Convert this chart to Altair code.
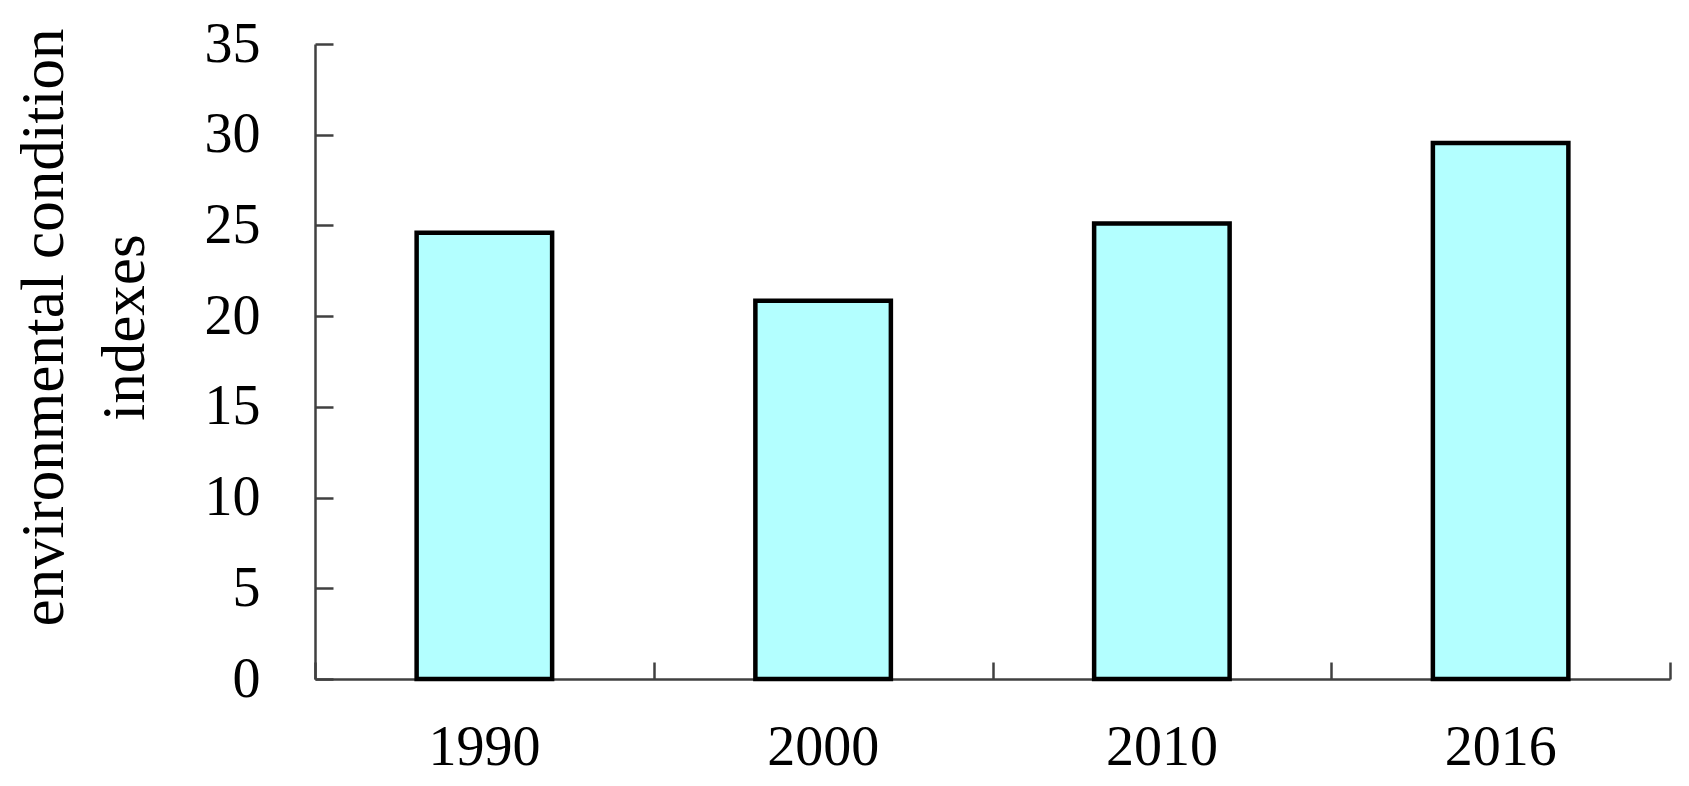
import altair as alt
import pandas as pd

years = ["1990", "2000", "2010", "2016"]
values = [24.6, 20.85, 25.1, 29.55]
y_ticks = [0, 5, 10, 15, 20, 25, 30, 35]

df = pd.DataFrame({"year": years, "value": values})

FONT = "Liberation Serif"
AXIS_COLOR = "#404040"
W, H = 1355, 635

x_scale = alt.Scale(paddingInner=0, paddingOuter=0)
y_scale = alt.Scale(domain=[0, 35], nice=False)

bars = alt.Chart(df).mark_bar(
    fill="#B3FFFF", stroke="#000000", strokeWidth=4.5,
    width=alt.RelativeBandSize(0.40)
).encode(
    x=alt.X("year:N", sort=years, scale=x_scale, title=None,
            axis=alt.Axis(orient="bottom", labels=True, ticks=False, tickSize=0,
                          domain=True, domainColor=AXIS_COLOR, domainWidth=2.5,
                          labelAngle=0, labelFont=FONT, labelFontSize=56,
                          labelColor="#000000", labelPadding=41, grid=False)),
    y=alt.Y("value:Q", scale=y_scale,
            title=["environmental condition", "indexes"],
            axis=alt.Axis(orient="left", values=y_ticks, labels=True, ticks=False,
                          tickSize=0, domain=True, domainColor=AXIS_COLOR,
                          domainWidth=2.5, labelFont=FONT, labelFontSize=56,
                          labelColor="#000000", labelPadding=55, grid=False,
                          titleFont=FONT, titleFontSize=61, titleFontWeight="normal",
                          titleColor="#000000", titleX=-253, titleY=283,
                          titleAlign="center", titleBaseline="alphabetic",
                          titleLineHeight=81, titleAngle=270)),
)

ticks_layer = alt.Chart(df).mark_bar(opacity=0).encode(
    x=alt.X("year:N", sort=years, scale=x_scale, title=None,
            axis=alt.Axis(orient="top", offset=-H, labels=False, ticks=True,
                          tickSize=17, tickWidth=2.5, tickColor=AXIS_COLOR,
                          tickBand="extent", domain=False, grid=False)),
    y=alt.Y("value:Q", scale=y_scale, title=None,
            axis=alt.Axis(orient="right", offset=-W, values=y_ticks, labels=False,
                          ticks=True, tickSize=18, tickWidth=2.5,
                          tickColor=AXIS_COLOR, domain=False, grid=False)),
)

chart = alt.layer(bars, ticks_layer).resolve_axis(
    x="independent", y="independent"
).properties(
    width=W, height=H,
    background="white",
    autosize=alt.AutoSizeParams(type="none"),
    padding={"left": 307, "top": 36, "right": 10, "bottom": 100},
).configure_view(stroke=None, strokeWidth=0)

chart.save("out.html", embed_options={"renderer": "svg", "actions": False})
